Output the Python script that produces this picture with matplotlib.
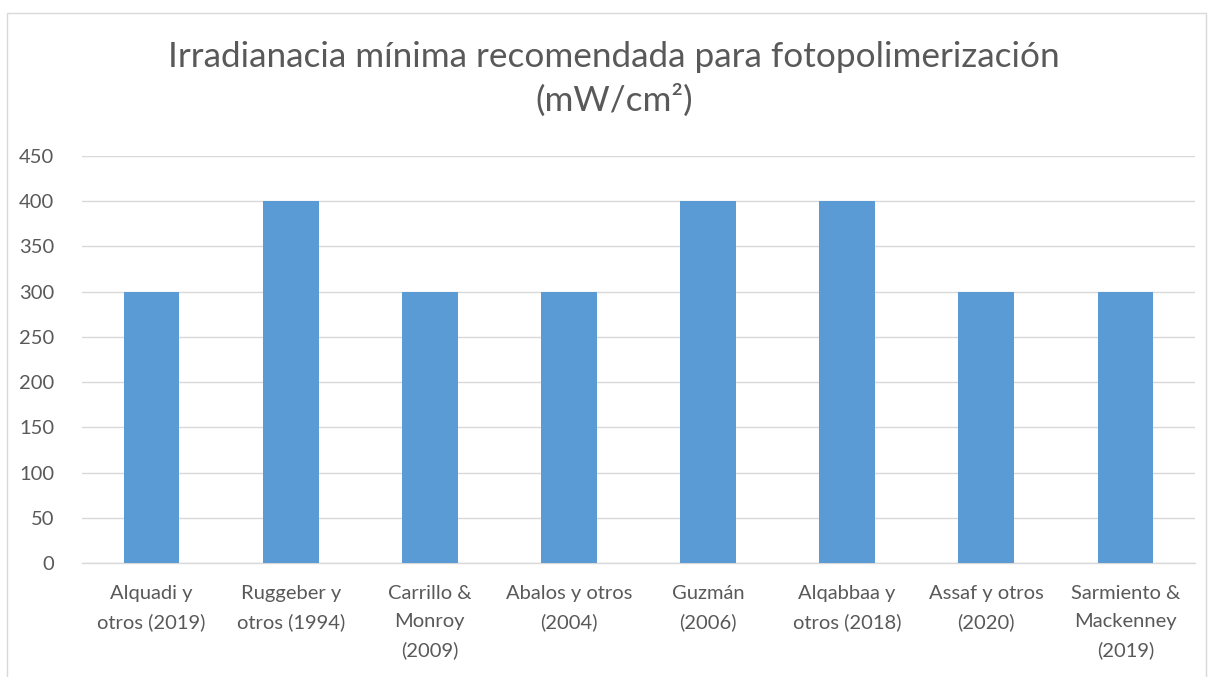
import matplotlib
matplotlib.use("Agg")
import matplotlib.pyplot as plt
from matplotlib.patches import Rectangle

categories = ["Alquadi y\notros (2019)", "Ruggeber y\notros (1994)", "Carrillo &\nMonroy\n(2009)",
              "Abalos y otros\n(2004)", "Guzmán\n(2006)", "Alqabbaa y\notros (2018)",
              "Assaf y otros\n(2020)", "Sarmiento &\nMackenney\n(2019)"]
values = [300, 400, 300, 300, 400, 400, 300, 300]
yticks = [0, 50, 100, 150, 200, 250, 300, 350, 400, 450]
title = "Irradianacia mínima recomendada para fotopolimerización\n(mW/cm²)"

plt.rcParams['font.family'] = ['Lato', 'DejaVu Sans']
gray = "#595959"

fig = plt.figure(figsize=(12.1, 6.77), dpi=100)
ax = fig.add_axes([82/1210, 1-563/677, (1195-82)/1210, (563-156)/677])

x = list(range(len(categories)))
ax.bar(x, values, width=0.4, color="#5B9BD5", zorder=3)
ax.set_xlim(-0.5, len(categories) - 0.5)
ax.set_ylim(0, 450)
ax.set_yticks(yticks)
ax.set_xticks(x)
ax.set_xticklabels(categories, fontsize=14.5, color=gray, linespacing=1.75)
ax.tick_params(axis='y', labelsize=14.5, labelcolor=gray, length=0, pad=20)
ax.tick_params(axis='x', length=0, pad=16)
ax.grid(axis='y', color="#D9D9D9", linewidth=1, zorder=0)
for s in ["top", "right", "left"]:
    ax.spines[s].set_visible(False)
ax.spines["bottom"].set_color("#D9D9D9")
ax.spines["bottom"].set_linewidth(1)

fig.text(614/1210, 1-79/677, title, ha="center", va="center", fontsize=25.3,
         color=gray, linespacing=1.38)

fig.patches.append(Rectangle((7/1210, -0.01), (1206-7)/1210, (1-13/677) + 0.01,
                             transform=fig.transFigure, fill=False,
                             edgecolor="#D9D9D9", linewidth=1))

fig.savefig("out.png", dpi=100)
